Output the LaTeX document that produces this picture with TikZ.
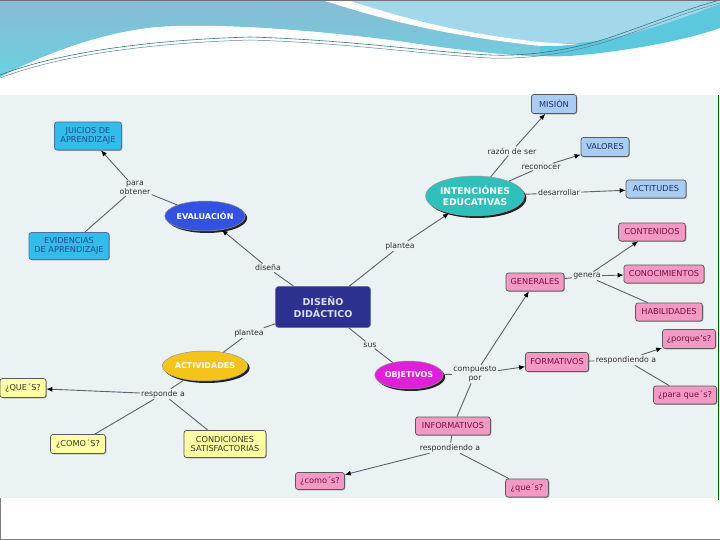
\documentclass[tikz,border=0pt]{standalone}
\usepackage{fontspec}
\setmainfont{DejaVu Sans}
\usetikzlibrary{shapes.geometric,arrows.meta,shadows}
\definecolor{mapbg}{HTML}{EAF2F4}
\definecolor{topA}{HTML}{88BBD5}
\definecolor{topB}{HTML}{62D8E3}
\definecolor{topC}{HTML}{A2D8EA}
\definecolor{topBand}{HTML}{5CC8DD}
\definecolor{cCyan}{HTML}{33BBEA}
\definecolor{cCyanTxt}{HTML}{1F4E8C}
\definecolor{cLtBlue}{HTML}{A9CDF2}
\definecolor{cLtBlueTxt}{HTML}{1E2E6E}
\definecolor{cPink}{HTML}{F39AC4}
\definecolor{cPinkTxt}{HTML}{7A1040}
\definecolor{cYel}{HTML}{FFFFA6}
\definecolor{cYelTxt}{HTML}{3A3A20}
\definecolor{cNavy}{HTML}{2C3190}
\definecolor{cNavyTxt}{HTML}{D9DDF2}
\definecolor{cEval}{HTML}{3352E0}
\definecolor{cIntent}{HTML}{2FC0BB}
\definecolor{cActiv}{HTML}{F5C41A}
\definecolor{cObjet}{HTML}{E020D8}
\definecolor{cLine}{HTML}{5A6470}
\tikzset{
 box/.style={rectangle, rounded corners=2.5pt, draw=black!65, line width=0.7pt,
   inner sep=1pt, align=center, font=\fontsize{8.2}{9.2}\selectfont,
   drop shadow={shadow xshift=0.8pt, shadow yshift=-0.8pt, fill=black!45, opacity=0.8}},
 cyanbox/.style={box, fill=cCyan, text=cCyanTxt, draw=cCyanTxt!80},
 bluebox/.style={box, fill=cLtBlue, text=cLtBlueTxt},
 pinkbox/.style={box, fill=cPink, text=cPinkTxt},
 yelbox/.style={box, fill=cYel, text=cYelTxt},
 ell/.style={ellipse, inner sep=0pt, align=center, text=white,
   font=\bfseries\fontsize{8}{9.5}\selectfont, draw=black!40, line width=0.5pt,
   drop shadow={shadow xshift=2pt, shadow yshift=-2pt, fill=black, opacity=0.85}},
 lab/.style={inner sep=1.2pt, align=center, font=\fontsize{7.8}{8.8}\selectfont, text=black!80},
 conn/.style={draw=cLine, line width=0.9pt},
 arr/.style={conn, -{Latex[length=6pt,width=5pt,color=black]}},
}
\begin{document}
\begin{tikzpicture}[x=1pt,y=-1pt]
\useasboundingbox (0,0) rectangle (720,540);
\fill[white] (0,0) rectangle (720,540);
% top decoration
\begin{scope}
\clip (0,0) -- (720,0) -- (720,28) .. controls (680,42) and (620,52) .. (570,56)
  .. controls (520,58) and (460,50) .. (400,41) .. controls (300,28) and (220,24) .. (170,26)
  .. controls (110,28) and (40,55) .. (0,77) -- cycle;
\fill[topBand] (0,0) rectangle (720,100);
\shade[top color=topA, bottom color=topB] (0,0) -- (322,0) .. controls (390,22) and (450,36) .. (540,46)
  -- (540,100) -- (0,100) -- cycle;
\fill[topC] (347,0) .. controls (410,20) and (460,33) .. (540,42)
  .. controls (580,46) and (610,40) .. (640,31) .. controls (680,20) and (705,9) .. (720,4) -- (720,0) -- cycle;
\fill[white] (322,0) -- (347,0) .. controls (410,20) and (460,33) .. (540,42)
  .. controls (555,43) and (565,44) .. (578,44) .. controls (565,46) and (552,46) .. (540,46)
  .. controls (450,36) and (390,22) .. (322,0) -- cycle;
\end{scope}
\draw[line width=0.6pt, color=topBand!60!black] (0,75) .. controls (60,52) and (150,40) .. (250,37)
  .. controls (350,40) and (430,52) .. (490,55) .. controls (540,57) and (590,45) .. (620,34)
  .. controls (660,20) and (690,8) .. (720,0);
\draw[line width=0.5pt, color=topA!70!black] (0,78) .. controls (60,55) and (150,43) .. (250,40)
  .. controls (350,43) and (430,55) .. (490,58) .. controls (540,60) and (590,48) .. (620,37)
  .. controls (660,23) and (690,11) .. (720,3);
\draw[line width=0.6pt, black!55] (0,0.3) -- (720,0.3);
% map area
\fill[mapbg] (0,95) rectangle (718,498);
\draw[line width=0.7pt, green!35!black] (718.5,95) -- (718.5,500);
\draw[line width=0.8pt, black!50] (0.4,498) -- (0.4,539.6) -- (719.6,539.6);

% main nodes
\node[rectangle, rounded corners=3pt, fill=cNavy, draw=cNavy!70!white, line width=0.6pt,
  minimum width=95pt, minimum height=41pt, align=center, text=cNavyTxt,
  font=\bfseries\fontsize{9.5}{12}\selectfont] (dis) at (323,307) {DISEÑO\\DIDÁCTICO};
\node[ell, fill=cEval, minimum width=74pt, minimum height=30pt] (eval) at (205,216) {EVALUACIÓN};
\node[ell, fill=cIntent, minimum width=82pt, minimum height=40pt, font=\bfseries\fontsize{9.2}{10.5}\selectfont] (intent) at (475,196) {INTENCIÓNES\\EDUCATIVAS};
\node[ell, fill=cActiv, minimum width=74pt, minimum height=30pt] (activ) at (205,366) {ACTIVIDADES};
\node[ell, fill=cObjet, minimum width=64pt, minimum height=28pt] (objet) at (409,375) {OBJETIVOS};

% boxes
\node[cyanbox, minimum width=67pt, minimum height=28pt] (juicios) at (88,136) {JUICIOS DE\\APRENDIZAJE};
\node[cyanbox, minimum width=80pt, minimum height=27pt] (evid) at (69,246) {EVIDENCIAS\\DE APRENDIZAJE};
\node[bluebox, minimum width=45pt, minimum height=19pt] (mision) at (554,104) {MISIÓN};
\node[bluebox, minimum width=48pt, minimum height=19pt] (valores) at (605,147) {VALORES};
\node[bluebox, minimum width=60pt, minimum height=18pt] (actit) at (656,189) {ACTITUDES};
\node[pinkbox, minimum width=67pt, minimum height=18pt] (conten) at (652,232) {CONTENIDOS};
\node[pinkbox, minimum width=80pt, minimum height=18pt] (conoc) at (664,274) {CONOCIMIENTOS};
\node[pinkbox, minimum width=67pt, minimum height=18pt] (habil) at (669,312) {HABILIDADES};
\node[pinkbox, minimum width=58pt, minimum height=18pt] (gener) at (535,282) {GENERALES};
\node[pinkbox, minimum width=63pt, minimum height=19pt] (format) at (557,362) {FORMATIVOS};
\node[pinkbox, minimum width=53pt, minimum height=19pt] (porque) at (689,339) {¿porque's?};
\node[pinkbox, minimum width=63pt, minimum height=18pt] (paraque) at (685,395) {¿para que´s?};
\node[pinkbox, minimum width=75pt, minimum height=18pt] (inform) at (453,426) {INFORMATIVOS};
\node[pinkbox, minimum width=49pt, minimum height=17pt] (comos) at (320,481) {¿como´s?};
\node[pinkbox, minimum width=43pt, minimum height=18pt] (ques) at (527,488) {¿que´s?};
\node[yelbox, minimum width=46pt, minimum height=19pt] (queS) at (23,388) {¿QUE´S?};
\node[yelbox, minimum width=55pt, minimum height=19pt] (comoS) at (78,444) {¿COMO´S?};
\node[yelbox, minimum width=82pt, minimum height=27pt] (condic) at (225,444) {CONDICIONES\\SATISFACTORIAS};

% labels
\node[lab] (lPara) at (135,188) {para\\obtener};
\node[lab] (lDisena) at (268,268) {diseña};
\node[lab] (lPlanR) at (400,246) {plantea};
\node[lab] (lRazon) at (512,151) {razón de ser};
\node[lab] (lRecon) at (541,167) {reconocer};
\node[lab] (lDesar) at (559,193) {desarrollar};
\node[lab] (lGenera) at (587,276) {genera};
\node[lab] (lPlanL) at (249,333) {plantea};
\node[lab] (lSus) at (370,345) {sus};
\node[lab] (lComp) at (475,374) {compuesto\\por};
\node[lab] (lResp) at (163,394) {responde a};
\node[lab] (lRespF) at (626,360) {respondiendo a};
\node[lab] (lRespI) at (450,448) {respondiendo a};

% connectors
\draw[conn] (dis) -- (lDisena); \draw[arr] (lDisena) -- (eval);
\draw[conn] (eval) -- (lPara); \draw[arr] (lPara) -- (juicios); \draw[conn] (lPara) -- (evid);
\draw[conn] (dis) -- (lPlanR); \draw[arr] (lPlanR) -- (intent);
\draw[conn] (intent) -- (lRazon); \draw[arr] (lRazon) -- (mision);
\draw[conn] (intent) -- (lRecon); \draw[arr] (lRecon) -- (valores);
\draw[conn] (intent) -- (lDesar); \draw[arr] (lDesar) -- (actit);
\draw[conn] (dis) -- (lPlanL); \draw[conn] (lPlanL) -- (activ);
\draw[conn] (activ) -- (lResp); \draw[arr] (lResp) -- (queS);
\draw[conn] (lResp) -- (comoS); \draw[conn] (lResp) -- (condic);
\draw[conn] (dis) -- (lSus); \draw[conn] (lSus) -- (objet);
\draw[conn] (objet) -- (lComp); \draw[arr] (lComp) -- (format);
\draw[arr] (lComp) -- (gener); \draw[conn] (lComp) -- (inform);
\draw[conn] (gener) -- (lGenera); \draw[arr] (lGenera) -- (conten);
\draw[arr] (lGenera) -- (conoc); \draw[conn] (lGenera) -- (habil);
\draw[conn] (format) -- (lRespF); \draw[arr] (lRespF) -- (porque); \draw[conn] (lRespF) -- (paraque);
\draw[conn] (inform) -- (lRespI); \draw[arr] (lRespI) -- (comos); \draw[conn] (lRespI) -- (ques);
\end{tikzpicture}
\end{document}
